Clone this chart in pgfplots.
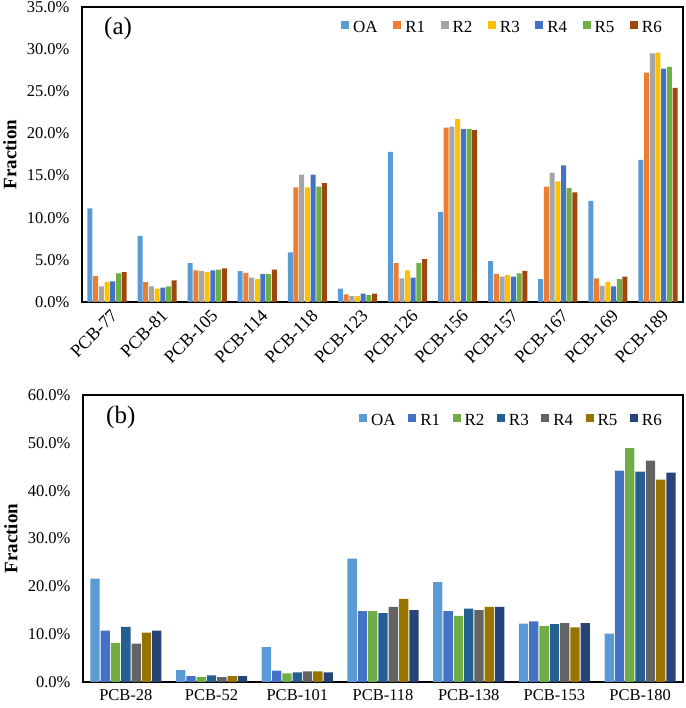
\documentclass[border=0pt]{standalone}
\usepackage{pgfplots}
\pgfplotsset{compat=1.18}
\usepackage{pgfplotstable}
\usepackage{fontspec}
\setmainfont{Liberation Serif}
\definecolor{cOA}{HTML}{5B9BD5}
\definecolor{cR1}{HTML}{ED7D31}
\definecolor{cR2}{HTML}{A5A5A5}
\definecolor{cR3}{HTML}{FFC000}
\definecolor{cR4}{HTML}{4472C4}
\definecolor{cR5}{HTML}{70AD47}
\definecolor{cR6}{HTML}{9E480E}
\definecolor{dR3}{HTML}{255E91}
\definecolor{dR4}{HTML}{636363}
\definecolor{dR5}{HTML}{997300}
\definecolor{dR6}{HTML}{264478}
\pgfplotstableread{
x OA R1 R2 R3 R4 R5 R6
0 11.1 3.1 1.85 2.35 2.45 3.4 3.55
1 7.85 2.35 1.85 1.6 1.7 1.85 2.55
2 4.6 3.75 3.65 3.55 3.75 3.85 4.0
3 3.65 3.45 2.9 2.7 3.3 3.3 3.85
4 5.9 13.6 15.1 13.6 15.1 13.7 14.1
5 1.6 0.9 0.7 0.7 1.0 0.8 1.0
6 17.8 4.6 2.8 3.75 2.9 4.6 5.1
7 10.7 20.7 20.8 21.7 20.5 20.5 20.4
8 4.85 3.35 3.0 3.2 3.0 3.4 3.7
9 2.7 13.7 15.35 14.3 16.2 13.5 13.0
10 12.0 2.8 1.9 2.4 1.85 2.7 3.0
11 16.85 27.2 29.5 29.6 27.7 27.9 25.4
}\tA
\pgfplotstableread{
x OA R1 R2 R3 R4 R5 R6
0 21.6 10.75 8.2 11.5 8.0 10.3 10.75
1 2.5 1.25 1.0 1.4 1.0 1.25 1.25
2 7.3 2.4 1.8 2.0 2.2 2.2 2.0
3 25.8 14.8 14.8 14.4 15.7 17.4 15.0
4 20.9 14.8 13.8 15.35 15.0 15.7 15.7
5 12.2 12.7 11.7 12.1 12.3 11.4 12.3
6 10.1 44.2 48.9 44.0 46.3 42.3 43.75
}\tB
\pgfplotsset{
  common/.style={
    scale only axis,
    axis line style={line width=1.3pt},
    ymin=0,
    major tick length=0pt,
    /pgf/number format/assume math mode=true,
    tick label style={font=\fontsize{16.5}{18}\selectfont},
    yticklabel={\pgfmathprintnumber[fixed,fixed zerofill,precision=1]{\tick}\%},
    yticklabel style={xshift=-9pt},
    ylabel={Fraction},
    ylabel style={font=\fontsize{19}{21}\selectfont\bfseries, at={(axis description cs:0,0.5)}, anchor=south, yshift=62pt},
    xtick=data,
    legend columns=7,
    legend style={draw=none, fill=none, font=\fontsize{17}{19}\selectfont,
      /tikz/every odd column/.append style={column sep=2pt}},
  },
  sq legend/.style={legend image code/.code={\fill[##1] (0pt,-1pt) rectangle (8pt,7pt);}},
}
\begin{document}
\begin{tikzpicture}
\useasboundingbox (0,0) rectangle (685pt,708pt);
\begin{axis}[common,
  at={(82pt,406pt)}, anchor=south west,
  width=601pt, height=295pt,
  xmin=-0.5, xmax=11.5, ymax=35, ytick={0,5,...,35},
  ybar=0.7pt, bar width=5pt, sq legend,
  xticklabels={PCB-77,PCB-81,PCB-105,PCB-114,PCB-118,PCB-123,PCB-126,PCB-156,PCB-157,PCB-167,PCB-169,PCB-189},
  xticklabel style={font=\fontsize{18}{20}\selectfont, rotate=45, anchor=east, yshift=-13pt, xshift=1pt},
  legend style={at={(1,1)}, anchor=north east, xshift=-16pt, yshift=-10pt,
     /tikz/every even column/.append style={column sep=13.5pt}},
]
\addplot[fill=cOA, draw=none] table[x=x,y=OA]{\tA};
\addplot[fill=cR1, draw=none] table[x=x,y=R1]{\tA};
\addplot[fill=cR2, draw=none] table[x=x,y=R2]{\tA};
\addplot[fill=cR3, draw=none] table[x=x,y=R3]{\tA};
\addplot[fill=cR4, draw=none] table[x=x,y=R4]{\tA};
\addplot[fill=cR5, draw=none] table[x=x,y=R5]{\tA};
\addplot[fill=cR6, draw=none] table[x=x,y=R6]{\tA};
\legend{OA,R1,R2,R3,R4,R5,R6}
\node[font=\fontsize{25}{27}\selectfont] at (axis description cs:0.06,0.926) {(a)};
\end{axis}
\begin{axis}[common,
  at={(83pt,26pt)}, anchor=south west,
  width=600pt, height=287pt,
  xmin=-0.5, xmax=6.5, ymax=60, ytick={0,10,...,60},
  ybar=1pt, bar width=9.3pt, sq legend,
  xticklabels={PCB-28,PCB-52,PCB-101,PCB-118,PCB-138,PCB-153,PCB-180},
  xticklabel style={yshift=-4pt},
  legend style={at={(1,1)}, anchor=north east, xshift=-16pt, yshift=-15pt,
     /tikz/every even column/.append style={column sep=10.5pt}},
]
\addplot[fill=cOA, draw=none] table[x=x,y=OA]{\tB};
\addplot[fill=cR4, draw=none] table[x=x,y=R1]{\tB};
\addplot[fill=cR5, draw=none] table[x=x,y=R2]{\tB};
\addplot[fill=dR3, draw=none] table[x=x,y=R3]{\tB};
\addplot[fill=dR4, draw=none] table[x=x,y=R4]{\tB};
\addplot[fill=dR5, draw=none] table[x=x,y=R5]{\tB};
\addplot[fill=dR6, draw=none] table[x=x,y=R6]{\tB};
\legend{OA,R1,R2,R3,R4,R5,R6}
\node[font=\fontsize{25}{27}\selectfont] at (axis description cs:0.063,0.92) {(b)};
\end{axis}
\end{tikzpicture}
\end{document}
